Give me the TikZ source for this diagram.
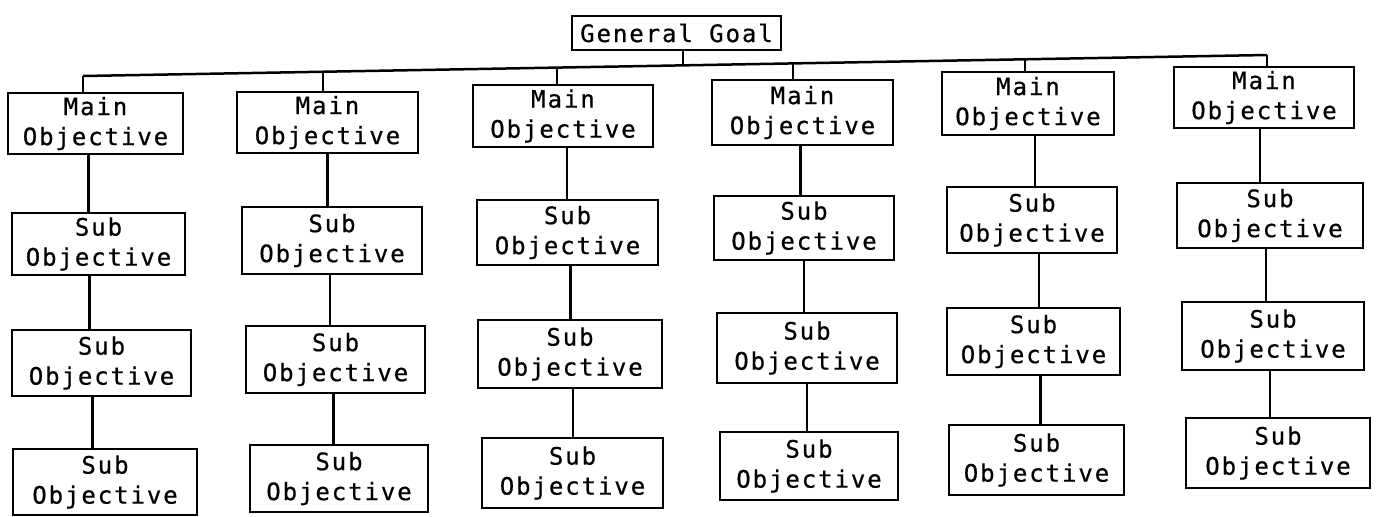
\documentclass[tikz,border=0pt]{standalone}
\usepackage{fontspec}
\setmonofont[LetterSpace=8,FakeBold=0.6]{DejaVu Sans Mono}
\usetikzlibrary{calc}
\newcommand{\objnode}[6]{\node[objbox, minimum width={#4-#2}, minimum height={#5-#3}] (#1) at ({(#2+#4)/2},{(#3+#5)/2}) {#6};}
\tikzset{
  objbox/.style={draw, line width=2.8pt, inner sep=0pt, align=center,
    font=\ttfamily\fontsize{24}{30}\selectfont},
  conn/.style={line width=2.5pt}
}
\begin{document}
\begin{tikzpicture}[x=1pt,y=-1pt]
\useasboundingbox[fill=white] (0,0) rectangle (1377,517);
% general goal
\objnode{gg}{572}{16}{781}{50}{General Goal}
% column 1
\objnode{m1}{8}{93}{183}{154}{Main\\Objective}
\objnode{s11}{12}{213}{185}{275}{Sub\\Objective}
\objnode{s12}{12}{330}{191}{396}{Sub\\Objective}
\objnode{s13}{13}{449}{197}{515}{Sub\\Objective}
% column 2
\objnode{m2}{237}{92}{418}{153}{Main\\Objective}
\objnode{s21}{242}{207}{422}{274}{Sub\\Objective}
\objnode{s22}{246}{326}{425}{393}{Sub\\Objective}
\objnode{s23}{250}{445}{428}{512}{Sub\\Objective}
% column 3
\objnode{m3}{473}{85}{653}{147}{Main\\Objective}
\objnode{s31}{477}{200}{658}{265}{Sub\\Objective}
\objnode{s32}{478}{320}{662}{388}{Sub\\Objective}
\objnode{s33}{482}{438}{663}{508}{Sub\\Objective}
% column 4
\objnode{m4}{712}{80}{893}{145}{Main\\Objective}
\objnode{s41}{714}{196}{894}{260}{Sub\\Objective}
\objnode{s42}{717}{313}{897}{383}{Sub\\Objective}
\objnode{s43}{720}{432}{898}{500}{Sub\\Objective}
% column 5
\objnode{m5}{942}{72}{1114}{135}{Main\\Objective}
\objnode{s51}{947}{187}{1117}{253}{Sub\\Objective}
\objnode{s52}{947}{308}{1120}{375}{Sub\\Objective}
\objnode{s53}{949}{425}{1124}{495}{Sub\\Objective}
% column 6
\objnode{m6}{1174}{67}{1354}{128}{Main\\Objective}
\objnode{s61}{1177}{183}{1363}{248}{Sub\\Objective}
\objnode{s62}{1182}{302}{1364}{370}{Sub\\Objective}
\objnode{s63}{1186}{418}{1370}{488}{Sub\\Objective}
% top bar
\coordinate (bL) at (83,76);
\coordinate (bR) at (1267,55);
\draw[conn] (bL) -- (bR);
\coordinate (dg) at ($(bL)!{(683-83)/1184}!(bR)$);
\coordinate (d2) at ($(bL)!{(323-83)/1184}!(bR)$);
\coordinate (d3) at ($(bL)!{(557-83)/1184}!(bR)$);
\coordinate (d4) at ($(bL)!{(793-83)/1184}!(bR)$);
\coordinate (d5) at ($(bL)!{(1025-83)/1184}!(bR)$);
\draw[conn] (gg.south -| dg) -- (dg);
\draw[conn] (bL) -- (m1.north -| bL);
\draw[conn] (d2) -- (m2.north -| d2);
\draw[conn] (d3) -- (m3.north -| d3);
\draw[conn] (d4) -- (m4.north -| d4);
\draw[conn] (d5) -- (m5.north -| d5);
\draw[conn] (bR) -- (m6.north -| bR);
% column stems
\draw[conn] ([xshift=-7pt]m1.south) -- ([xshift=-7pt]m1.south |- s11.north);
\draw[conn] ([xshift=-9pt]s11.south) -- ([xshift=-9pt]s11.south |- s12.north);
\draw[conn] ([xshift=-9pt]s12.south) -- ([xshift=-9pt]s12.south |- s13.north);
\draw[conn] (m2.south) -- (m2.south |- s21.north);
\draw[conn] ([xshift=-2pt]s21.south) -- ([xshift=-2pt]s21.south |- s22.north);
\draw[conn] ([xshift=-2pt]s22.south) -- ([xshift=-2pt]s22.south |- s23.north);
\draw[conn] ([xshift=4pt]m3.south) -- ([xshift=4pt]m3.south |- s31.north);
\draw[conn] ([xshift=3pt]s31.south) -- ([xshift=3pt]s31.south |- s32.north);
\draw[conn] ([xshift=3pt]s32.south) -- ([xshift=3pt]s32.south |- s33.north);
\draw[conn] ([xshift=-2pt]m4.south) -- ([xshift=-2pt]m4.south |- s41.north);
\draw[conn] (s41.south) -- (s41.south |- s42.north);
\draw[conn] (s42.south) -- (s42.south |- s43.north);
\draw[conn] ([xshift=7pt]m5.south) -- ([xshift=7pt]m5.south |- s51.north);
\draw[conn] ([xshift=7pt]s51.south) -- ([xshift=7pt]s51.south |- s52.north);
\draw[conn] ([xshift=7pt]s52.south) -- ([xshift=7pt]s52.south |- s53.north);
\draw[conn] ([xshift=-4pt]m6.south) -- ([xshift=-4pt]m6.south |- s61.north);
\draw[conn] ([xshift=-4pt]s61.south) -- ([xshift=-4pt]s61.south |- s62.north);
\draw[conn] ([xshift=-3pt]s62.south) -- ([xshift=-3pt]s62.south |- s63.north);
\end{tikzpicture}
\end{document}
